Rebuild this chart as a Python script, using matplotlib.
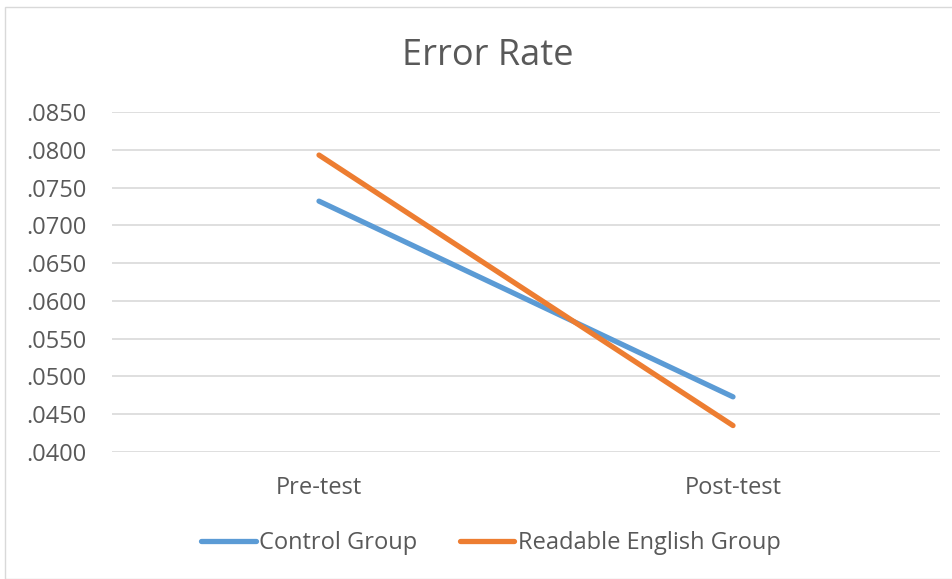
import matplotlib
matplotlib.use("Agg")
import matplotlib.pyplot as plt
from matplotlib.patches import Rectangle

plt.rcParams['font.family'] = ['Open Sans', 'DejaVu Sans']

categories = ['Pre-test', 'Post-test']
control_group = [0.0732, 0.0473]
readable_group = [0.0793, 0.0435]
y_ticks = [0.040, 0.045, 0.050, 0.055, 0.060, 0.065, 0.070, 0.075, 0.080, 0.085]

TEXT = '#595959'
GRID = '#d9d9d9'

fig = plt.figure(figsize=(9.53, 5.79), dpi=100)
# chart frame, like an Excel chart area
fig.patches.append(Rectangle((5 / 953, 0), 1.0, 1 - 7 / 579, transform=fig.transFigure,
                             fill=False, edgecolor=GRID, linewidth=1.0))

ax = fig.add_axes([112 / 953, 1 - 452 / 579, (940 - 112) / 953, (452 - 112) / 579])
x = range(len(categories))
ax.plot(x, control_group, color='#5b9bd5', linewidth=3.8, solid_capstyle='round', label='Control Group')
ax.plot(x, readable_group, color='#ed7d31', linewidth=3.8, solid_capstyle='round', label='Readable English Group')

ax.set_xlim(-0.5, 1.5)
ax.set_ylim(0.040, 0.085)
ax.set_yticks(y_ticks)
ax.set_yticklabels([('%.4f' % v)[1:] for v in y_ticks])
ax.set_xticks(list(x))
ax.set_xticklabels(categories)
ax.tick_params(axis='both', length=0, labelsize=17, labelcolor=TEXT)
ax.tick_params(axis='x', pad=17)
ax.tick_params(axis='y', pad=18)
ax.grid(axis='y', color=GRID, linewidth=1.2)
ax.set_axisbelow(True)
for s in ax.spines.values():
    s.set_visible(False)

fig.text(488 / 953, 1 - 56 / 579, 'Error Rate', ha='center', va='center', fontsize=26, color=TEXT)

leg = fig.legend(loc='center', bbox_to_anchor=(491 / 953, 1 - 543 / 579), ncol=2, frameon=False,
                 fontsize=17, handlelength=2.3, handletextpad=0.15, columnspacing=1.8)
for t in leg.get_texts():
    t.set_color(TEXT)

fig.savefig('out.png', dpi=100)
